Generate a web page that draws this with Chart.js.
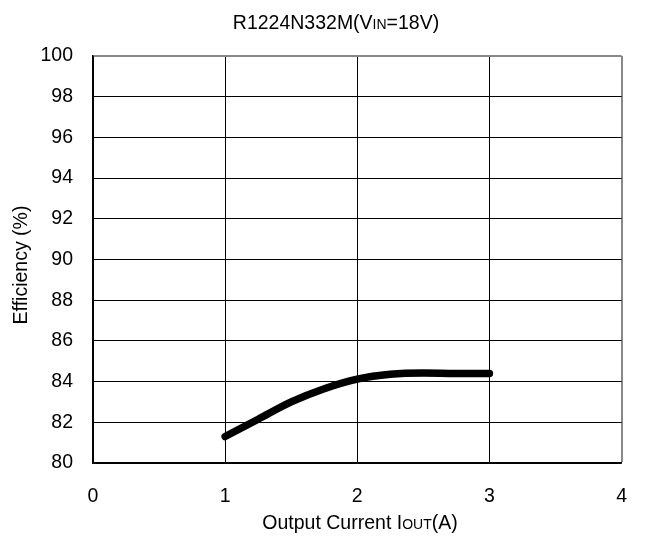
<!DOCTYPE html>
<html>
<head>
<meta charset="utf-8">
<script src="https://cdn.jsdelivr.net/npm/chart.js@4"></script>
<style>
    body { margin: 0; background: #fff; }
    #wrap { width: 649px; height: 539px; position: relative; }
</style>
</head>
<body>
<div id="wrap"><canvas id="eff-chart"></canvas></div>
<script>
// Efficiency curve
const currents = [1, 1.25, 1.5, 1.75, 2, 2.25, 2.5, 2.75, 3];
const efficiencies = [81.3, 82.15, 83.0, 83.65, 84.12, 84.36, 84.42, 84.4, 84.4];

// text pieces: [text, small?]
const titleParts = [["R1224N332M(V", false], ["IN", true], ["=18V)", false]];
const xTitleParts = [["Output Current I", false], ["OUT", true], ["(A)", false]];
const yTitle = "Efficiency (%)";

const FONT = "'Liberation Sans', Arial, sans-serif";
const BIG = 19.5;
const SMALL = 14;

Chart.defaults.font.family = FONT;
Chart.defaults.color = "#000";

function drawParts(ctx, parts, cx, cy) {
    let total = 0;
    parts.forEach(([t, small]) => {
        ctx.font = `${small ? SMALL : BIG}px ${FONT}`;
        total += ctx.measureText(t).width;
    });
    let x = cx - total / 2;
    ctx.textBaseline = "alphabetic";
    ctx.textAlign = "left";
    parts.forEach(([t, small]) => {
        ctx.font = `${small ? SMALL : BIG}px ${FONT}`;
        ctx.fillText(t, x, cy + BIG * 0.36);
        x += ctx.measureText(t).width;
    });
}

const labelsPlugin = {
    id: "labels",
    afterDraw(chart) {
        const ctx = chart.ctx;
        ctx.save();
        ctx.fillStyle = "#000";
        drawParts(ctx, titleParts, 336, 22);
        drawParts(ctx, xTitleParts, 360, 522);
        ctx.translate(22, 265);
        ctx.rotate(-Math.PI / 2);
        ctx.font = `${BIG}px ${FONT}`;
        ctx.textAlign = "center";
        ctx.textBaseline = "middle";
        ctx.fillText(yTitle, 0, 0);
        ctx.restore();
    }
};

new Chart(document.getElementById("eff-chart").getContext("2d"), {
    type: "line",
    data: {
        datasets: [{
            label: "Efficiency",
            data: currents.map((c, i) => ({x: c, y: efficiencies[i]})),
            borderColor: "#000",
            borderWidth: 7.5,
            borderCapStyle: "round",
            borderJoinStyle: "round",
            pointRadius: 0,
            cubicInterpolationMode: "monotone",
            fill: false
        }]
    },
    options: {
        responsive: true,
        maintainAspectRatio: false,
        animation: false,
        layout: {padding: {top: 56, right: 26, left: 0, bottom: 0}},
        plugins: {
            legend: {display: false},
            tooltip: {enabled: false}
        },
        scales: {
            x: {
                type: "linear",
                min: 0,
                max: 4,
                ticks: {stepSize: 1, padding: 22, font: {size: BIG}, color: "#000"},
                grid: {
                    drawTicks: false,
                    color: (c) => c.tick && c.tick.value === 4 ? "#888" : "#000",
                    lineWidth: (c) => c.tick && c.tick.value === 4 ? 2 : 1
                },
                border: {color: "#000", width: 1.5},
                afterFit: (s) => { s.height = 76; }
            },
            y: {
                type: "linear",
                min: 80,
                max: 100,
                ticks: {stepSize: 2, padding: 20, font: {size: BIG}, color: "#000"},
                grid: {
                    drawTicks: false,
                    color: (c) => c.tick && c.tick.value === 100 ? "#888" : "#000",
                    lineWidth: (c) => c.tick && c.tick.value === 100 ? 2 : 1
                },
                border: {color: "#000", width: 1.5},
                afterFit: (s) => { s.width = 93; }
            }
        }
    },
    plugins: [labelsPlugin]
});
</script>
</body>
</html>
